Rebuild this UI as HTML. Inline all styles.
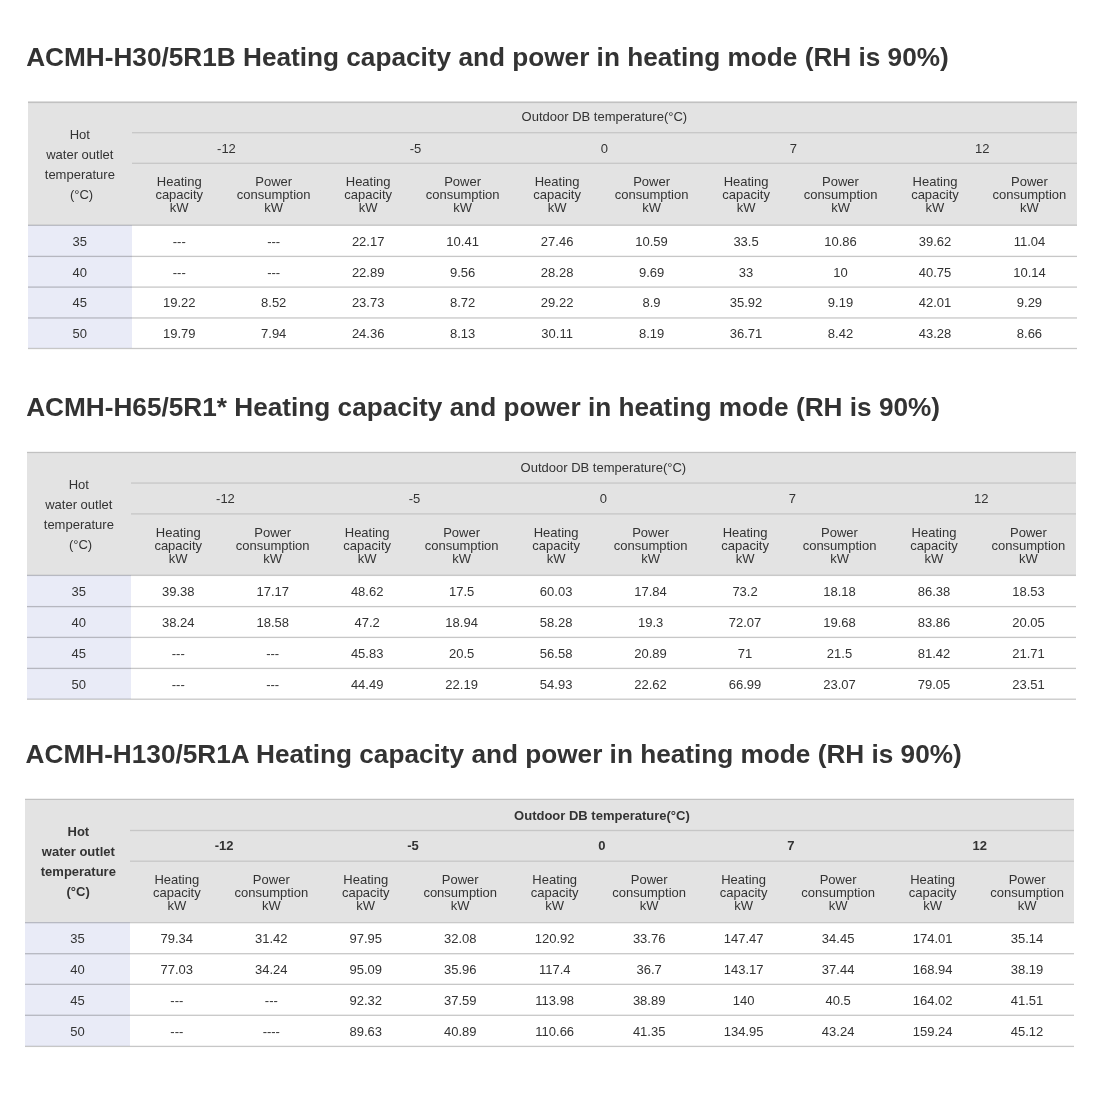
<!DOCTYPE html>
<html lang="en">
<head>
<meta charset="utf-8">
<title>Heating capacity tables</title>
<style>
html,body{margin:0;padding:0;background:#fff}
body{width:1094px;height:1107px;position:relative;overflow:hidden;font-family:"Liberation Sans",Arial,Helvetica,sans-serif;color:#333;font-size:13px}
.t{position:absolute;left:0;top:0;width:1094px;height:0}
.a{position:absolute}
.h1{position:absolute;margin:0;font-weight:bold;font-size:26.2px;line-height:26.2px;white-space:nowrap;color:#333;letter-spacing:0}
.bg{background:#e3e3e3}
.c0{background:#e9ebf7}
.ln{position:absolute;height:1px;background:#c6c6c6}
.c{position:absolute;display:flex;align-items:center;justify-content:center;text-align:center;white-space:nowrap}
.sh{line-height:13px}
.fh{line-height:20px}
.dg{position:relative}
.b{font-weight:bold}
</style>
</head>
<body>
<h1 class="h1" style="left:26.2px;top:43.82px">ACMH-H30/5R1B Heating capacity and power in heating mode (RH is 90%)</h1>
<section class="t">
<div class="a bg" style="left:27.7px;top:101.5px;width:1049px;height:123.3px"></div>
<div class="a c0" style="left:27.7px;top:224.8px;width:104.3px;height:123.4px"></div>
<div class="ln" style="left:27.7px;top:101px;width:1049px;background:rgba(0,0,0,0.135)"></div>
<div class="ln" style="left:27.7px;top:102px;width:1049px;background:rgba(0,0,0,0.150)"></div>
<div class="ln" style="left:27.7px;top:103px;width:1049px;background:rgba(0,0,0,0.015)"></div>
<div class="ln" style="left:132px;top:132px;width:944.7px;background:rgba(0,0,0,0.119)"></div>
<div class="ln" style="left:132px;top:133px;width:944.7px;background:rgba(0,0,0,0.044)"></div>
<div class="ln" style="left:132px;top:162px;width:944.7px;background:rgba(0,0,0,0.044)"></div>
<div class="ln" style="left:132px;top:163px;width:944.7px;background:rgba(0,0,0,0.119)"></div>
<div class="ln" style="left:27.7px;top:224px;width:1049px;background:rgba(0,0,0,0.073)"></div>
<div class="ln" style="left:27.7px;top:225px;width:1049px;background:rgba(0,0,0,0.200)"></div>
<div class="ln" style="left:27.7px;top:255px;width:1049px;background:rgba(0,0,0,0.055)"></div>
<div class="ln" style="left:27.7px;top:256px;width:1049px;background:rgba(0,0,0,0.220)"></div>
<div class="ln" style="left:27.7px;top:257px;width:1049px;background:rgba(0,0,0,0.011)"></div>
<div class="ln" style="left:27.7px;top:286px;width:1049px;background:rgba(0,0,0,0.121)"></div>
<div class="ln" style="left:27.7px;top:287px;width:1049px;background:rgba(0,0,0,0.165)"></div>
<div class="ln" style="left:27.7px;top:317px;width:1049px;background:rgba(0,0,0,0.154)"></div>
<div class="ln" style="left:27.7px;top:318px;width:1049px;background:rgba(0,0,0,0.132)"></div>
<div class="ln" style="left:27.7px;top:347px;width:1049px;background:rgba(0,0,0,0.033)"></div>
<div class="ln" style="left:27.7px;top:348px;width:1049px;background:rgba(0,0,0,0.220)"></div>
<div class="ln" style="left:27.7px;top:349px;width:1049px;background:rgba(0,0,0,0.033)"></div>
<div class="c fh" style="left:27.7px;top:103.5px;width:104.3px;height:123.3px"><div>Hot<br>water outlet<br>temperature<br><span class="dg" style="left:1.7px">(°C)</span></div></div>
<div class="c" style="left:132px;top:101.5px;width:944.7px;height:30.6px">Outdoor DB temperature(°C)</div>
<div class="c" style="left:132px;top:133.1px;width:188.94px;height:30.9px">-12</div>
<div class="c" style="left:320.94px;top:133.1px;width:188.94px;height:30.9px">-5</div>
<div class="c" style="left:509.88px;top:133.1px;width:188.94px;height:30.9px">0</div>
<div class="c" style="left:698.82px;top:133.1px;width:188.94px;height:30.9px">7</div>
<div class="c" style="left:887.76px;top:133.1px;width:188.94px;height:30.9px">12</div>
<div class="c sh" style="left:132px;top:164px;width:94.47px;height:61.8px">Heating<br>capacity<br>kW</div>
<div class="c sh" style="left:226.47px;top:164px;width:94.47px;height:61.8px">Power<br>consumption<br>kW</div>
<div class="c sh" style="left:320.94px;top:164px;width:94.47px;height:61.8px">Heating<br>capacity<br>kW</div>
<div class="c sh" style="left:415.41px;top:164px;width:94.47px;height:61.8px">Power<br>consumption<br>kW</div>
<div class="c sh" style="left:509.88px;top:164px;width:94.47px;height:61.8px">Heating<br>capacity<br>kW</div>
<div class="c sh" style="left:604.35px;top:164px;width:94.47px;height:61.8px">Power<br>consumption<br>kW</div>
<div class="c sh" style="left:698.82px;top:164px;width:94.47px;height:61.8px">Heating<br>capacity<br>kW</div>
<div class="c sh" style="left:793.29px;top:164px;width:94.47px;height:61.8px">Power<br>consumption<br>kW</div>
<div class="c sh" style="left:887.76px;top:164px;width:94.47px;height:61.8px">Heating<br>capacity<br>kW</div>
<div class="c sh" style="left:982.23px;top:164px;width:94.47px;height:61.8px">Power<br>consumption<br>kW</div>
<div class="c" style="left:27.7px;top:225.8px;width:104.3px;height:30.85px">35</div>
<div class="c" style="left:132px;top:225.8px;width:94.47px;height:30.85px">---</div>
<div class="c" style="left:226.47px;top:225.8px;width:94.47px;height:30.85px">---</div>
<div class="c" style="left:320.94px;top:225.8px;width:94.47px;height:30.85px">22.17</div>
<div class="c" style="left:415.41px;top:225.8px;width:94.47px;height:30.85px">10.41</div>
<div class="c" style="left:509.88px;top:225.8px;width:94.47px;height:30.85px">27.46</div>
<div class="c" style="left:604.35px;top:225.8px;width:94.47px;height:30.85px">10.59</div>
<div class="c" style="left:698.82px;top:225.8px;width:94.47px;height:30.85px">33.5</div>
<div class="c" style="left:793.29px;top:225.8px;width:94.47px;height:30.85px">10.86</div>
<div class="c" style="left:887.76px;top:225.8px;width:94.47px;height:30.85px">39.62</div>
<div class="c" style="left:982.23px;top:225.8px;width:94.47px;height:30.85px">11.04</div>
<div class="c" style="left:27.7px;top:256.65px;width:104.3px;height:30.85px">40</div>
<div class="c" style="left:132px;top:256.65px;width:94.47px;height:30.85px">---</div>
<div class="c" style="left:226.47px;top:256.65px;width:94.47px;height:30.85px">---</div>
<div class="c" style="left:320.94px;top:256.65px;width:94.47px;height:30.85px">22.89</div>
<div class="c" style="left:415.41px;top:256.65px;width:94.47px;height:30.85px">9.56</div>
<div class="c" style="left:509.88px;top:256.65px;width:94.47px;height:30.85px">28.28</div>
<div class="c" style="left:604.35px;top:256.65px;width:94.47px;height:30.85px">9.69</div>
<div class="c" style="left:698.82px;top:256.65px;width:94.47px;height:30.85px">33</div>
<div class="c" style="left:793.29px;top:256.65px;width:94.47px;height:30.85px">10</div>
<div class="c" style="left:887.76px;top:256.65px;width:94.47px;height:30.85px">40.75</div>
<div class="c" style="left:982.23px;top:256.65px;width:94.47px;height:30.85px">10.14</div>
<div class="c" style="left:27.7px;top:287.5px;width:104.3px;height:30.85px">45</div>
<div class="c" style="left:132px;top:287.5px;width:94.47px;height:30.85px">19.22</div>
<div class="c" style="left:226.47px;top:287.5px;width:94.47px;height:30.85px">8.52</div>
<div class="c" style="left:320.94px;top:287.5px;width:94.47px;height:30.85px">23.73</div>
<div class="c" style="left:415.41px;top:287.5px;width:94.47px;height:30.85px">8.72</div>
<div class="c" style="left:509.88px;top:287.5px;width:94.47px;height:30.85px">29.22</div>
<div class="c" style="left:604.35px;top:287.5px;width:94.47px;height:30.85px">8.9</div>
<div class="c" style="left:698.82px;top:287.5px;width:94.47px;height:30.85px">35.92</div>
<div class="c" style="left:793.29px;top:287.5px;width:94.47px;height:30.85px">9.19</div>
<div class="c" style="left:887.76px;top:287.5px;width:94.47px;height:30.85px">42.01</div>
<div class="c" style="left:982.23px;top:287.5px;width:94.47px;height:30.85px">9.29</div>
<div class="c" style="left:27.7px;top:318.35px;width:104.3px;height:30.85px">50</div>
<div class="c" style="left:132px;top:318.35px;width:94.47px;height:30.85px">19.79</div>
<div class="c" style="left:226.47px;top:318.35px;width:94.47px;height:30.85px">7.94</div>
<div class="c" style="left:320.94px;top:318.35px;width:94.47px;height:30.85px">24.36</div>
<div class="c" style="left:415.41px;top:318.35px;width:94.47px;height:30.85px">8.13</div>
<div class="c" style="left:509.88px;top:318.35px;width:94.47px;height:30.85px">30.11</div>
<div class="c" style="left:604.35px;top:318.35px;width:94.47px;height:30.85px">8.19</div>
<div class="c" style="left:698.82px;top:318.35px;width:94.47px;height:30.85px">36.71</div>
<div class="c" style="left:793.29px;top:318.35px;width:94.47px;height:30.85px">8.42</div>
<div class="c" style="left:887.76px;top:318.35px;width:94.47px;height:30.85px">43.28</div>
<div class="c" style="left:982.23px;top:318.35px;width:94.47px;height:30.85px">8.66</div>
</section>
<h1 class="h1" style="left:26.2px;top:394.12px">ACMH-H65/5R1* Heating capacity and power in heating mode (RH is 90%)</h1>
<section class="t">
<div class="a bg" style="left:26.7px;top:452px;width:1049px;height:123.3px"></div>
<div class="a c0" style="left:26.7px;top:575.3px;width:104.3px;height:123.4px"></div>
<div class="ln" style="left:26.7px;top:451px;width:1049px;background:rgba(0,0,0,0.045)"></div>
<div class="ln" style="left:26.7px;top:452px;width:1049px;background:rgba(0,0,0,0.150)"></div>
<div class="ln" style="left:26.7px;top:453px;width:1049px;background:rgba(0,0,0,0.015)"></div>
<div class="ln" style="left:131px;top:482px;width:944.7px;background:rgba(0,0,0,0.075)"></div>
<div class="ln" style="left:131px;top:483px;width:944.7px;background:rgba(0,0,0,0.087)"></div>
<div class="ln" style="left:131px;top:513px;width:944.7px;background:rgba(0,0,0,0.094)"></div>
<div class="ln" style="left:131px;top:514px;width:944.7px;background:rgba(0,0,0,0.069)"></div>
<div class="ln" style="left:26.7px;top:574px;width:1049px;background:rgba(0,0,0,0.052)"></div>
<div class="ln" style="left:26.7px;top:575px;width:1049px;background:rgba(0,0,0,0.210)"></div>
<div class="ln" style="left:26.7px;top:576px;width:1049px;background:rgba(0,0,0,0.010)"></div>
<div class="ln" style="left:26.7px;top:605px;width:1049px;background:rgba(0,0,0,0.011)"></div>
<div class="ln" style="left:26.7px;top:606px;width:1049px;background:rgba(0,0,0,0.220)"></div>
<div class="ln" style="left:26.7px;top:607px;width:1049px;background:rgba(0,0,0,0.055)"></div>
<div class="ln" style="left:26.7px;top:636px;width:1049px;background:rgba(0,0,0,0.055)"></div>
<div class="ln" style="left:26.7px;top:637px;width:1049px;background:rgba(0,0,0,0.220)"></div>
<div class="ln" style="left:26.7px;top:638px;width:1049px;background:rgba(0,0,0,0.011)"></div>
<div class="ln" style="left:26.7px;top:667px;width:1049px;background:rgba(0,0,0,0.055)"></div>
<div class="ln" style="left:26.7px;top:668px;width:1049px;background:rgba(0,0,0,0.220)"></div>
<div class="ln" style="left:26.7px;top:669px;width:1049px;background:rgba(0,0,0,0.011)"></div>
<div class="ln" style="left:26.7px;top:698px;width:1049px;background:rgba(0,0,0,0.099)"></div>
<div class="ln" style="left:26.7px;top:699px;width:1049px;background:rgba(0,0,0,0.187)"></div>
<div class="c fh" style="left:26.7px;top:453px;width:104.3px;height:123.3px"><div>Hot<br>water outlet<br>temperature<br><span class="dg" style="left:1.7px">(°C)</span></div></div>
<div class="c" style="left:131px;top:452px;width:944.7px;height:30.6px">Outdoor DB temperature(°C)</div>
<div class="c" style="left:131px;top:482.6px;width:188.94px;height:30.9px">-12</div>
<div class="c" style="left:319.94px;top:482.6px;width:188.94px;height:30.9px">-5</div>
<div class="c" style="left:508.88px;top:482.6px;width:188.94px;height:30.9px">0</div>
<div class="c" style="left:697.82px;top:482.6px;width:188.94px;height:30.9px">7</div>
<div class="c" style="left:886.76px;top:482.6px;width:188.94px;height:30.9px">12</div>
<div class="c sh" style="left:131px;top:514.5px;width:94.47px;height:61.8px">Heating<br>capacity<br>kW</div>
<div class="c sh" style="left:225.47px;top:514.5px;width:94.47px;height:61.8px">Power<br>consumption<br>kW</div>
<div class="c sh" style="left:319.94px;top:514.5px;width:94.47px;height:61.8px">Heating<br>capacity<br>kW</div>
<div class="c sh" style="left:414.41px;top:514.5px;width:94.47px;height:61.8px">Power<br>consumption<br>kW</div>
<div class="c sh" style="left:508.88px;top:514.5px;width:94.47px;height:61.8px">Heating<br>capacity<br>kW</div>
<div class="c sh" style="left:603.35px;top:514.5px;width:94.47px;height:61.8px">Power<br>consumption<br>kW</div>
<div class="c sh" style="left:697.82px;top:514.5px;width:94.47px;height:61.8px">Heating<br>capacity<br>kW</div>
<div class="c sh" style="left:792.29px;top:514.5px;width:94.47px;height:61.8px">Power<br>consumption<br>kW</div>
<div class="c sh" style="left:886.76px;top:514.5px;width:94.47px;height:61.8px">Heating<br>capacity<br>kW</div>
<div class="c sh" style="left:981.23px;top:514.5px;width:94.47px;height:61.8px">Power<br>consumption<br>kW</div>
<div class="c" style="left:26.7px;top:576.3px;width:104.3px;height:30.85px">35</div>
<div class="c" style="left:131px;top:576.3px;width:94.47px;height:30.85px">39.38</div>
<div class="c" style="left:225.47px;top:576.3px;width:94.47px;height:30.85px">17.17</div>
<div class="c" style="left:319.94px;top:576.3px;width:94.47px;height:30.85px">48.62</div>
<div class="c" style="left:414.41px;top:576.3px;width:94.47px;height:30.85px">17.5</div>
<div class="c" style="left:508.88px;top:576.3px;width:94.47px;height:30.85px">60.03</div>
<div class="c" style="left:603.35px;top:576.3px;width:94.47px;height:30.85px">17.84</div>
<div class="c" style="left:697.82px;top:576.3px;width:94.47px;height:30.85px">73.2</div>
<div class="c" style="left:792.29px;top:576.3px;width:94.47px;height:30.85px">18.18</div>
<div class="c" style="left:886.76px;top:576.3px;width:94.47px;height:30.85px">86.38</div>
<div class="c" style="left:981.23px;top:576.3px;width:94.47px;height:30.85px">18.53</div>
<div class="c" style="left:26.7px;top:607.15px;width:104.3px;height:30.85px">40</div>
<div class="c" style="left:131px;top:607.15px;width:94.47px;height:30.85px">38.24</div>
<div class="c" style="left:225.47px;top:607.15px;width:94.47px;height:30.85px">18.58</div>
<div class="c" style="left:319.94px;top:607.15px;width:94.47px;height:30.85px">47.2</div>
<div class="c" style="left:414.41px;top:607.15px;width:94.47px;height:30.85px">18.94</div>
<div class="c" style="left:508.88px;top:607.15px;width:94.47px;height:30.85px">58.28</div>
<div class="c" style="left:603.35px;top:607.15px;width:94.47px;height:30.85px">19.3</div>
<div class="c" style="left:697.82px;top:607.15px;width:94.47px;height:30.85px">72.07</div>
<div class="c" style="left:792.29px;top:607.15px;width:94.47px;height:30.85px">19.68</div>
<div class="c" style="left:886.76px;top:607.15px;width:94.47px;height:30.85px">83.86</div>
<div class="c" style="left:981.23px;top:607.15px;width:94.47px;height:30.85px">20.05</div>
<div class="c" style="left:26.7px;top:638px;width:104.3px;height:30.85px">45</div>
<div class="c" style="left:131px;top:638px;width:94.47px;height:30.85px">---</div>
<div class="c" style="left:225.47px;top:638px;width:94.47px;height:30.85px">---</div>
<div class="c" style="left:319.94px;top:638px;width:94.47px;height:30.85px">45.83</div>
<div class="c" style="left:414.41px;top:638px;width:94.47px;height:30.85px">20.5</div>
<div class="c" style="left:508.88px;top:638px;width:94.47px;height:30.85px">56.58</div>
<div class="c" style="left:603.35px;top:638px;width:94.47px;height:30.85px">20.89</div>
<div class="c" style="left:697.82px;top:638px;width:94.47px;height:30.85px">71</div>
<div class="c" style="left:792.29px;top:638px;width:94.47px;height:30.85px">21.5</div>
<div class="c" style="left:886.76px;top:638px;width:94.47px;height:30.85px">81.42</div>
<div class="c" style="left:981.23px;top:638px;width:94.47px;height:30.85px">21.71</div>
<div class="c" style="left:26.7px;top:668.85px;width:104.3px;height:30.85px">50</div>
<div class="c" style="left:131px;top:668.85px;width:94.47px;height:30.85px">---</div>
<div class="c" style="left:225.47px;top:668.85px;width:94.47px;height:30.85px">---</div>
<div class="c" style="left:319.94px;top:668.85px;width:94.47px;height:30.85px">44.49</div>
<div class="c" style="left:414.41px;top:668.85px;width:94.47px;height:30.85px">22.19</div>
<div class="c" style="left:508.88px;top:668.85px;width:94.47px;height:30.85px">54.93</div>
<div class="c" style="left:603.35px;top:668.85px;width:94.47px;height:30.85px">22.62</div>
<div class="c" style="left:697.82px;top:668.85px;width:94.47px;height:30.85px">66.99</div>
<div class="c" style="left:792.29px;top:668.85px;width:94.47px;height:30.85px">23.07</div>
<div class="c" style="left:886.76px;top:668.85px;width:94.47px;height:30.85px">79.05</div>
<div class="c" style="left:981.23px;top:668.85px;width:94.47px;height:30.85px">23.51</div>
</section>
<h1 class="h1" style="left:25.6px;top:741.12px">ACMH-H130/5R1A Heating capacity and power in heating mode (RH is 90%)</h1>
<section class="t">
<div class="a bg" style="left:25.3px;top:799px;width:1049px;height:123.3px"></div>
<div class="a c0" style="left:25.3px;top:922.3px;width:104.3px;height:123.4px"></div>
<div class="ln" style="left:25.3px;top:798px;width:1049px;background:rgba(0,0,0,0.060)"></div>
<div class="ln" style="left:25.3px;top:799px;width:1049px;background:rgba(0,0,0,0.150)"></div>
<div class="ln" style="left:129.6px;top:829px;width:944.7px;background:rgba(0,0,0,0.019)"></div>
<div class="ln" style="left:129.6px;top:830px;width:944.7px;background:rgba(0,0,0,0.125)"></div>
<div class="ln" style="left:129.6px;top:831px;width:944.7px;background:rgba(0,0,0,0.019)"></div>
<div class="ln" style="left:129.6px;top:860px;width:944.7px;background:rgba(0,0,0,0.056)"></div>
<div class="ln" style="left:129.6px;top:861px;width:944.7px;background:rgba(0,0,0,0.106)"></div>
<div class="ln" style="left:25.3px;top:922px;width:1049px;background:rgba(0,0,0,0.210)"></div>
<div class="ln" style="left:25.3px;top:923px;width:1049px;background:rgba(0,0,0,0.063)"></div>
<div class="ln" style="left:25.3px;top:953px;width:1049px;background:rgba(0,0,0,0.209)"></div>
<div class="ln" style="left:25.3px;top:954px;width:1049px;background:rgba(0,0,0,0.077)"></div>
<div class="ln" style="left:25.3px;top:983px;width:1049px;background:rgba(0,0,0,0.066)"></div>
<div class="ln" style="left:25.3px;top:984px;width:1049px;background:rgba(0,0,0,0.220)"></div>
<div class="ln" style="left:25.3px;top:1014px;width:1049px;background:rgba(0,0,0,0.077)"></div>
<div class="ln" style="left:25.3px;top:1015px;width:1049px;background:rgba(0,0,0,0.209)"></div>
<div class="ln" style="left:25.3px;top:1045px;width:1049px;background:rgba(0,0,0,0.055)"></div>
<div class="ln" style="left:25.3px;top:1046px;width:1049px;background:rgba(0,0,0,0.220)"></div>
<div class="ln" style="left:25.3px;top:1047px;width:1049px;background:rgba(0,0,0,0.011)"></div>
<div class="c fh b" style="left:26.2px;top:800px;width:104.3px;height:123.3px"><div>Hot<br>water outlet<br>temperature<br><span class="dg" style="left:-0.2px">(°C)</span></div></div>
<div class="c b" style="left:129.6px;top:800px;width:944.7px;height:30.6px">Outdoor DB temperature(°C)</div>
<div class="c b" style="left:129.6px;top:829.6px;width:188.94px;height:30.9px">-12</div>
<div class="c b" style="left:318.54px;top:829.6px;width:188.94px;height:30.9px">-5</div>
<div class="c b" style="left:507.48px;top:829.6px;width:188.94px;height:30.9px">0</div>
<div class="c b" style="left:696.42px;top:829.6px;width:188.94px;height:30.9px">7</div>
<div class="c b" style="left:885.36px;top:829.6px;width:188.94px;height:30.9px">12</div>
<div class="c sh" style="left:129.6px;top:861.5px;width:94.47px;height:61.8px">Heating<br>capacity<br>kW</div>
<div class="c sh" style="left:224.07px;top:861.5px;width:94.47px;height:61.8px">Power<br>consumption<br>kW</div>
<div class="c sh" style="left:318.54px;top:861.5px;width:94.47px;height:61.8px">Heating<br>capacity<br>kW</div>
<div class="c sh" style="left:413.01px;top:861.5px;width:94.47px;height:61.8px">Power<br>consumption<br>kW</div>
<div class="c sh" style="left:507.48px;top:861.5px;width:94.47px;height:61.8px">Heating<br>capacity<br>kW</div>
<div class="c sh" style="left:601.95px;top:861.5px;width:94.47px;height:61.8px">Power<br>consumption<br>kW</div>
<div class="c sh" style="left:696.42px;top:861.5px;width:94.47px;height:61.8px">Heating<br>capacity<br>kW</div>
<div class="c sh" style="left:790.89px;top:861.5px;width:94.47px;height:61.8px">Power<br>consumption<br>kW</div>
<div class="c sh" style="left:885.36px;top:861.5px;width:94.47px;height:61.8px">Heating<br>capacity<br>kW</div>
<div class="c sh" style="left:979.83px;top:861.5px;width:94.47px;height:61.8px">Power<br>consumption<br>kW</div>
<div class="c" style="left:25.3px;top:923.3px;width:104.3px;height:30.85px">35</div>
<div class="c" style="left:129.6px;top:923.3px;width:94.47px;height:30.85px">79.34</div>
<div class="c" style="left:224.07px;top:923.3px;width:94.47px;height:30.85px">31.42</div>
<div class="c" style="left:318.54px;top:923.3px;width:94.47px;height:30.85px">97.95</div>
<div class="c" style="left:413.01px;top:923.3px;width:94.47px;height:30.85px">32.08</div>
<div class="c" style="left:507.48px;top:923.3px;width:94.47px;height:30.85px">120.92</div>
<div class="c" style="left:601.95px;top:923.3px;width:94.47px;height:30.85px">33.76</div>
<div class="c" style="left:696.42px;top:923.3px;width:94.47px;height:30.85px">147.47</div>
<div class="c" style="left:790.89px;top:923.3px;width:94.47px;height:30.85px">34.45</div>
<div class="c" style="left:885.36px;top:923.3px;width:94.47px;height:30.85px">174.01</div>
<div class="c" style="left:979.83px;top:923.3px;width:94.47px;height:30.85px">35.14</div>
<div class="c" style="left:25.3px;top:954.15px;width:104.3px;height:30.85px">40</div>
<div class="c" style="left:129.6px;top:954.15px;width:94.47px;height:30.85px">77.03</div>
<div class="c" style="left:224.07px;top:954.15px;width:94.47px;height:30.85px">34.24</div>
<div class="c" style="left:318.54px;top:954.15px;width:94.47px;height:30.85px">95.09</div>
<div class="c" style="left:413.01px;top:954.15px;width:94.47px;height:30.85px">35.96</div>
<div class="c" style="left:507.48px;top:954.15px;width:94.47px;height:30.85px">117.4</div>
<div class="c" style="left:601.95px;top:954.15px;width:94.47px;height:30.85px">36.7</div>
<div class="c" style="left:696.42px;top:954.15px;width:94.47px;height:30.85px">143.17</div>
<div class="c" style="left:790.89px;top:954.15px;width:94.47px;height:30.85px">37.44</div>
<div class="c" style="left:885.36px;top:954.15px;width:94.47px;height:30.85px">168.94</div>
<div class="c" style="left:979.83px;top:954.15px;width:94.47px;height:30.85px">38.19</div>
<div class="c" style="left:25.3px;top:985px;width:104.3px;height:30.85px">45</div>
<div class="c" style="left:129.6px;top:985px;width:94.47px;height:30.85px">---</div>
<div class="c" style="left:224.07px;top:985px;width:94.47px;height:30.85px">---</div>
<div class="c" style="left:318.54px;top:985px;width:94.47px;height:30.85px">92.32</div>
<div class="c" style="left:413.01px;top:985px;width:94.47px;height:30.85px">37.59</div>
<div class="c" style="left:507.48px;top:985px;width:94.47px;height:30.85px">113.98</div>
<div class="c" style="left:601.95px;top:985px;width:94.47px;height:30.85px">38.89</div>
<div class="c" style="left:696.42px;top:985px;width:94.47px;height:30.85px">140</div>
<div class="c" style="left:790.89px;top:985px;width:94.47px;height:30.85px">40.5</div>
<div class="c" style="left:885.36px;top:985px;width:94.47px;height:30.85px">164.02</div>
<div class="c" style="left:979.83px;top:985px;width:94.47px;height:30.85px">41.51</div>
<div class="c" style="left:25.3px;top:1015.85px;width:104.3px;height:30.85px">50</div>
<div class="c" style="left:129.6px;top:1015.85px;width:94.47px;height:30.85px">---</div>
<div class="c" style="left:224.07px;top:1015.85px;width:94.47px;height:30.85px">----</div>
<div class="c" style="left:318.54px;top:1015.85px;width:94.47px;height:30.85px">89.63</div>
<div class="c" style="left:413.01px;top:1015.85px;width:94.47px;height:30.85px">40.89</div>
<div class="c" style="left:507.48px;top:1015.85px;width:94.47px;height:30.85px">110.66</div>
<div class="c" style="left:601.95px;top:1015.85px;width:94.47px;height:30.85px">41.35</div>
<div class="c" style="left:696.42px;top:1015.85px;width:94.47px;height:30.85px">134.95</div>
<div class="c" style="left:790.89px;top:1015.85px;width:94.47px;height:30.85px">43.24</div>
<div class="c" style="left:885.36px;top:1015.85px;width:94.47px;height:30.85px">159.24</div>
<div class="c" style="left:979.83px;top:1015.85px;width:94.47px;height:30.85px">45.12</div>
</section>
</body>
</html>
